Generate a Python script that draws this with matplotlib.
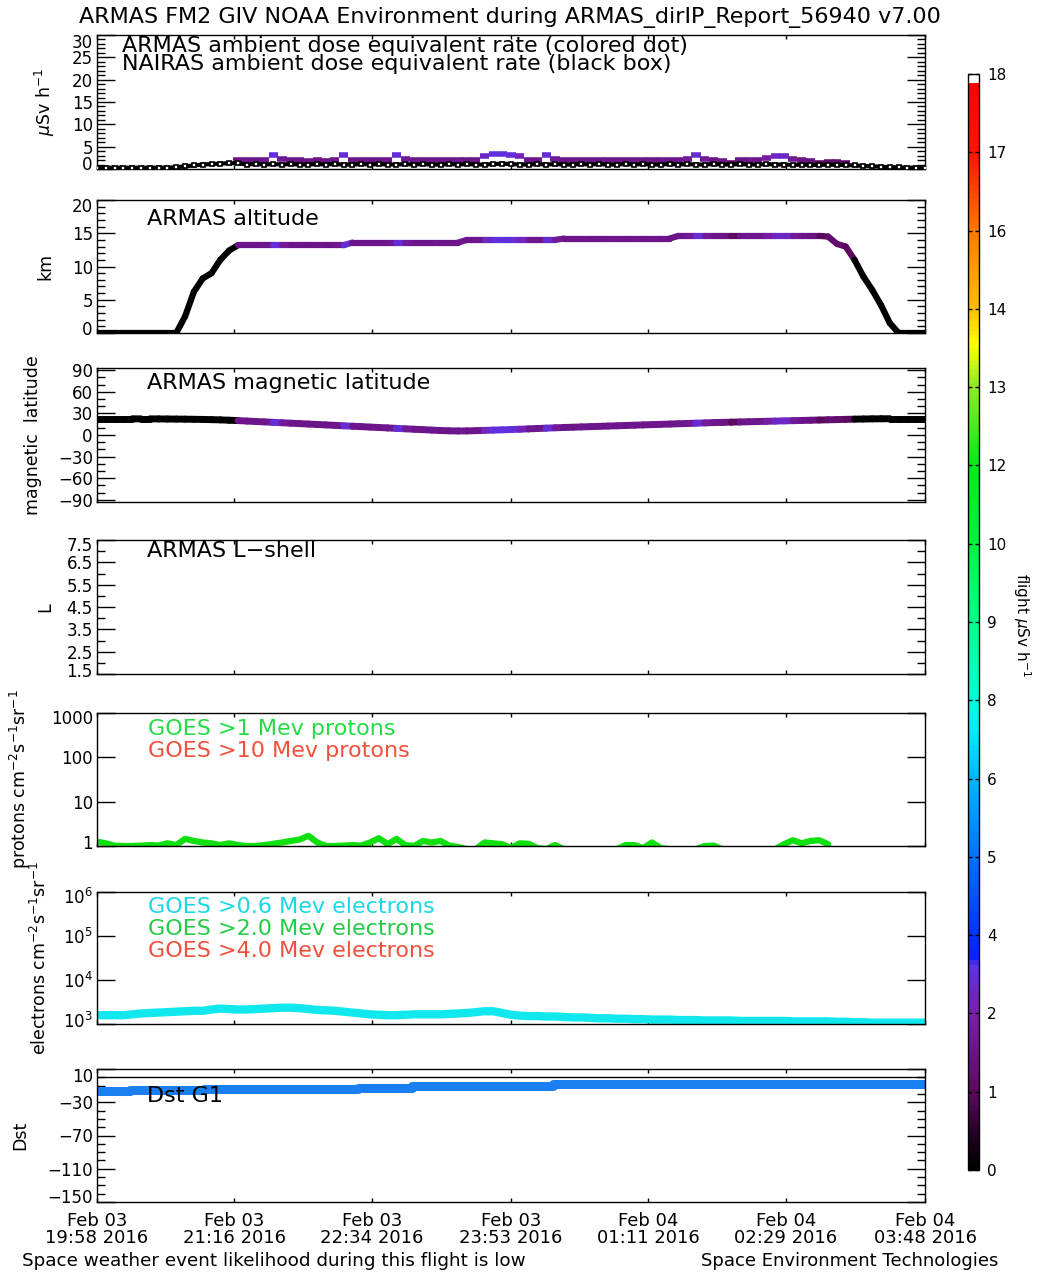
import numpy as np
import matplotlib
matplotlib.use('Agg')
import matplotlib.pyplot as plt
import matplotlib.transforms as mtransforms
from matplotlib.collections import LineCollection
from matplotlib.colors import LinearSegmentedColormap, Normalize
from matplotlib.cm import ScalarMappable
from matplotlib.ticker import MultipleLocator, FixedLocator, NullLocator

# ---------------- data ----------------
# sample times: minutes after 19:58 UT, Feb 03 2016 (every 5 min)
t = np.arange(0, 471, 5)

xtick_minutes = [0, 78, 156, 235, 313, 391, 470]
xtick_labels = ["Feb 03\n19:58 2016", "Feb 03\n21:16 2016", "Feb 03\n22:34 2016",
                "Feb 03\n23:53 2016", "Feb 04\n01:11 2016", "Feb 04\n02:29 2016",
                "Feb 04\n03:48 2016"]

nan = np.nan
# ARMAS ambient dose equivalent rate (uSv/h), colored dots
armas_dose = [nan] * 16 + [
    2.0, 2.0, 2.0, 2.1, 3.2, 2.2, 2.0, 2.0, 1.9, 2.0, 1.9, 2.1, 3.1, 2.0,
    2.0, 2.0, 2.0, 2.1, 3.2, 2.2, 2.0, 2.0, 2.1, 2.0, 2.0, 2.1, 2.0, 2.1,
    2.9, 3.3, 3.3, 3.2, 2.8, 2.1, 2.1, 3.1, 2.2, 2.0, 2.0, 2.1, 2.0, 2.0,
    2.1, 2.1, 2.0, 2.1, 2.0, 2.1, 2.0, 2.0, 2.1, 2.2, 3.1, 2.2, 2.0, 1.9,
    1.3, 2.0, 2.1, 2.1, 2.4, 2.9, 2.9, 2.2, 2.0, 1.8, 1.3, 1.5, 1.5, 1.3,
] + [nan] * 9

# NAIRAS ambient dose equivalent rate (uSv/h), black boxes
nairas_dose = [
    0.3, 0.3, 0.3, 0.3, 0.3, 0.3, 0.3, 0.3, 0.3, 0.4, 0.6, 0.8, 1.0, 1.1,
    1.2, 1.3, 1.3, 1.0, 1.1, 1.0, 1.1, 1.0, 1.1, 1.0, 1.0, 1.1, 1.0, 1.1,
    1.0, 1.0, 1.1, 1.0, 1.1, 1.0, 1.0, 1.1, 1.0, 1.1, 1.0, 1.0, 1.1, 1.0,
    1.1, 1.0, 1.0, 1.1, 1.2, 1.1, 1.0, 1.0, 1.1, 1.0, 1.1, 1.0, 1.0, 1.1,
    1.0, 1.1, 1.0, 1.0, 1.1, 1.0, 1.1, 1.0, 1.0, 1.1, 1.0, 1.1, 1.0, 1.0,
    1.1, 1.0, 1.0, 1.1, 1.0, 1.0, 1.1, 1.0, 1.0, 0.9, 1.0, 0.9, 0.9, 1.0,
    0.9, 0.9, 0.8, 0.7, 0.6, 0.5, 0.4, 0.4, 0.3, 0.3, 0.3,
]

# ARMAS altitude (km)
altitude = [
    0, 0, 0, 0, 0, 0, 0, 0, 0, 0, 2.5, 6.2, 8.2, 9.0, 11.0, 12.4,
    13.2, 13.2, 13.2, 13.2, 13.2, 13.2, 13.2, 13.2, 13.2, 13.2, 13.2, 13.2, 13.2,
    13.6, 13.6, 13.6, 13.6, 13.6, 13.6, 13.6, 13.6, 13.6, 13.6, 13.6, 13.6, 13.6,
    14.0, 14.0, 14.0, 14.0, 14.0, 14.0, 14.0, 14.0, 14.0, 14.0, 14.0,
    14.2, 14.2, 14.2, 14.2, 14.2, 14.2, 14.2, 14.2, 14.2, 14.2, 14.2, 14.2, 14.2,
    14.6, 14.6, 14.6, 14.6, 14.6, 14.6, 14.6, 14.6, 14.6, 14.6, 14.6, 14.6, 14.6,
    14.6, 14.6, 14.6, 14.6, 14.5,
    13.4, 13.0, 11.0, 8.5, 6.5, 4.2, 1.5, 0, 0, 0, 0,
]

# ARMAS magnetic latitude (deg)
mag_lat = [
    22.5, 22.5, 22.5, 22.5, 22.5, 22.4, 22.4, 22.3, 22.2, 22.1, 22.0, 21.8,
    21.6, 21.3, 21.0, 20.5, 20.0, 19.4, 18.8, 18.2, 17.6, 17.0, 16.4, 15.8,
    15.2, 14.6, 14.0, 13.4, 12.8, 12.2, 11.6, 11.0, 10.4, 9.8, 9.2, 8.6, 8.0,
    7.4, 6.8, 6.2, 5.8, 5.6, 5.7, 6.0, 6.4, 6.8, 7.2, 7.6, 8.0, 8.5, 9.0, 9.5,
    10.0, 10.4, 10.8, 11.2, 11.6, 12.0, 12.4, 12.8, 13.2, 13.6, 14.0, 14.4,
    14.8, 15.2, 15.6, 16.0, 16.4, 16.8, 17.2, 17.5, 17.8, 18.1, 18.4, 18.7,
    19.0, 19.3, 19.6, 19.9, 20.2, 20.5, 20.8, 21.1, 21.4, 21.7, 22.0, 22.2,
    22.4, 22.5, 22.6, 22.6, 22.6, 22.6, 22.6,
]

# GOES >1 MeV protons (cm-2 s-1 sr-1)
protons_1mev = [
    1.25, 1.15, 1.02, 1.0, 1.0, 1.02, 1.05, 1.03, 1.15, 1.05, 1.45, 1.3, 1.2,
    1.15, 1.05, 1.15, 1.05, 1.0, 1.0, 1.05, 1.12, 1.2, 1.3, 1.4, 1.7, 1.2, 1.0,
    1.0, 1.02, 1.05, 1.02, 1.2, 1.5, 1.1, 1.45, 1.05, 1.0, 1.3, 1.2, 1.3, 1.02,
    0.95, 0.85, 0.85, 1.2, 1.15, 1.1, 0.9, 1.15, 1.12, 0.9, 0.85, 1.05, 0.85,
    0.85, 0.85, 0.85, 0.85, 0.85, 0.85, 1.05, 1.05, 0.9, 1.2, 0.9, 0.85, 0.85,
    0.85, 0.85, 1.0, 1.02, 0.85, 0.85, 0.85, 0.85, 0.85, 0.85, 0.85, 1.1, 1.35,
    1.15, 1.3, 1.35, 1.1,
] + [nan] * 11

# GOES >0.6 MeV electrons, log10 flux (cm-2 s-1 sr-1)
electrons_06_log = [
    3.20, 3.20, 3.20, 3.20, 3.22, 3.24, 3.25, 3.26, 3.27, 3.28, 3.29, 3.30,
    3.30, 3.33, 3.35, 3.34, 3.33, 3.33, 3.34, 3.35, 3.36, 3.37, 3.37, 3.36,
    3.34, 3.32, 3.31, 3.30, 3.28, 3.26, 3.24, 3.22, 3.21, 3.20, 3.20, 3.21,
    3.22, 3.22, 3.22, 3.22, 3.23, 3.24, 3.25, 3.27, 3.29, 3.29, 3.25, 3.21,
    3.19, 3.18, 3.18, 3.17, 3.17, 3.16, 3.15, 3.15, 3.14, 3.13, 3.13, 3.12,
    3.12, 3.11, 3.11, 3.10, 3.10, 3.10, 3.09, 3.09, 3.09, 3.08, 3.08, 3.08,
    3.08, 3.07, 3.07, 3.07, 3.07, 3.07, 3.07, 3.06, 3.06, 3.06, 3.06, 3.06,
    3.05, 3.05, 3.04, 3.04, 3.03, 3.03, 3.03, 3.03, 3.03, 3.03, 3.03,
]

# Dst index (nT), stepwise
dst_minutes = [0, 19, 61, 110, 148, 179, 213, 259, 470]
dst_values = [-16.5, -15.5, -14.5, -13.5, -12.5, -11.0, -10.0, -8.5, -8.5]

cbar_labels = ["0", "1", "2", "4", "5", "6", "8", "9", "10", "12", "13", "14", "16", "17", "18"]

# ---------------- styling ----------------
W, H = 1042, 1274
fig = plt.figure(figsize=(W / 100, H / 100), dpi=100)
plt.rcParams['font.family'] = ['DejaVu Sans']
plt.rcParams['mathtext.fontset'] = 'dejavusans'

cmap = LinearSegmentedColormap.from_list('idl39', [
    (0.000, (0.00, 0.00, 0.00)),
    (0.020, (0.08, 0.00, 0.08)),
    (0.071, (0.36, 0.04, 0.38)),
    (0.143, (0.48, 0.12, 0.68)),
    (0.186, (0.36, 0.20, 0.90)),
    (0.192, (0.06, 0.12, 1.00)),
    (0.214, (0.00, 0.20, 1.00)),
    (0.286, (0.00, 0.45, 1.00)),
    (0.357, (0.00, 0.72, 1.00)),
    (0.400, (0.00, 0.92, 1.00)),
    (0.429, (0.00, 1.00, 0.85)),
    (0.500, (0.00, 1.00, 0.55)),
    (0.571, (0.00, 0.96, 0.25)),
    (0.643, (0.00, 0.92, 0.08)),
    (0.714, (0.55, 0.92, 0.15)),
    (0.755, (1.00, 1.00, 0.00)),
    (0.786, (1.00, 0.75, 0.00)),
    (0.857, (1.00, 0.48, 0.00)),
    (0.929, (1.00, 0.08, 0.00)),
    (0.994, (1.00, 0.00, 0.00)),
    (0.996, (1.00, 1.00, 1.00)),
    (1.000, (1.00, 1.00, 1.00)),
])
norm = Normalize(0, 18)


def ax_at(top, bottom, left=97, right=925):
    return fig.add_axes([left / W, 1 - bottom / H, (right - left) / W, (bottom - top) / H])


def style(ax):
    ax.set_xlim(0, 470)
    ax.xaxis.set_major_locator(FixedLocator(xtick_minutes))
    ax.xaxis.set_minor_locator(NullLocator())
    ax.tick_params(axis='x', which='major', direction='in', length=3, width=1,
                   top=True, bottom=True, labelbottom=False)
    ax.tick_params(axis='y', which='major', direction='in', length=13, width=1,
                   left=True, right=True, labelsize=12, pad=3)
    ax.tick_params(axis='y', which='minor', direction='in', length=6, width=1,
                   left=True, right=True)
    for s in ax.spines.values():
        s.set_linewidth(1)


def inset_end_labels(ax, d=5):
    lo, hi = ax.get_ylim()
    locs = ax.yaxis.get_majorticklocs()
    ticks = ax.yaxis.get_major_ticks(len(locs))
    for tk, loc in zip(ticks, locs):
        if np.isclose(loc, lo, rtol=1e-6):
            dy = d
        elif np.isclose(loc, hi, rtol=1e-6):
            dy = -d
        else:
            continue
        off = mtransforms.ScaledTranslation(0, dy / 100, fig.dpi_scale_trans)
        tk.label1.set_transform(tk.label1.get_transform() + off)


def dose_colors(vals):
    return [cmap(norm(v)) if np.isfinite(v) else (0, 0, 0, 1) for v in vals]


def colored_line(ax, x, y, c, lw):
    pts = np.column_stack([x, y])
    segs = np.stack([pts[:-1], pts[1:]], axis=1)
    lc = LineCollection(segs, colors=dose_colors(np.asarray(c, float)[:-1]),
                        linewidths=lw, capstyle='round')
    ax.add_collection(lc)


def ylab(x_px, ax, text, size=12.5):
    pos = ax.get_position()
    fig.text(x_px / W, pos.y0 + pos.height / 2, text, rotation=90,
             ha='center', va='center', fontsize=size)


TXT = 16

# ---- panel 1: dose rate ----
ax1 = ax_at(35, 169)
style(ax1)
ax1.set_ylim(0, 30)
ax1.yaxis.set_major_locator(MultipleLocator(5))
ax1.yaxis.set_minor_locator(MultipleLocator(1))
ad = np.asarray(armas_dose, float)
ok = np.isfinite(ad)
dose_segs = [[(ti - 2.6, v), (ti + 2.6, v)] for ti, v in zip(t[ok], ad[ok])]
ax1.add_collection(LineCollection(dose_segs, colors=dose_colors(ad[ok]),
                                  linewidths=4, capstyle='butt', zorder=2))
ax1.plot(t, nairas_dose, color='black', lw=3, marker='s', ms=3.5, mfc='white',
         mec='black', mew=1.2, zorder=3)
ax1.text(0.030, 0.915, "ARMAS ambient dose equivalent rate (colored dot)",
         transform=ax1.transAxes, fontsize=TXT, va='center')
ax1.text(0.030, 0.780, "NAIRAS ambient dose equivalent rate (black box)",
         transform=ax1.transAxes, fontsize=TXT, va='center')
ylab(45, ax1, r"$\mu$Sv h$^{-1}$")
inset_end_labels(ax1, 6)

# ---- panel 2: altitude ----
ax2 = ax_at(200, 333)
style(ax2)
ax2.set_ylim(0, 20)
ax2.yaxis.set_major_locator(MultipleLocator(5))
ax2.yaxis.set_minor_locator(MultipleLocator(1))
colored_line(ax2, t, altitude, armas_dose, 4.5)
ax2.text(0.060, 0.857, "ARMAS altitude", transform=ax2.transAxes, fontsize=TXT, va='center')
ylab(45, ax2, "km")
inset_end_labels(ax2, 5)

# ---- panel 3: magnetic latitude ----
ax3 = ax_at(368, 502)
style(ax3)
ax3.set_ylim(-93, 93)
ax3.yaxis.set_major_locator(FixedLocator([-90, -60, -30, 0, 30, 60, 90]))
ax3.yaxis.set_minor_locator(MultipleLocator(10))
colored_line(ax3, t, mag_lat, armas_dose, 5)
ax3.text(0.060, 0.885, "ARMAS magnetic latitude", transform=ax3.transAxes, fontsize=TXT, va='center')
ylab(33, ax3, "magnetic  latitude")

# ---- panel 4: L-shell ----
ax4 = ax_at(540, 674)
style(ax4)
ax4.set_ylim(1.5, 7.5)
ax4.yaxis.set_major_locator(FixedLocator([1.5, 2.5, 3.5, 4.5, 5.5, 6.5, 7.5]))
ax4.yaxis.set_minor_locator(FixedLocator([2, 3, 4, 5, 6, 7]))
ax4.text(0.060, 0.915, "ARMAS L\u2212shell", transform=ax4.transAxes, fontsize=TXT, va='center')
ylab(45, ax4, "L")
inset_end_labels(ax4, 4)

# ---- panel 5: protons ----
ax5 = ax_at(713, 846)
style(ax5)
ax5.set_yscale('log')
ax5.set_ylim(1, 1000)
ax5.yaxis.set_major_locator(FixedLocator([1, 10, 100, 1000]))
ax5.yaxis.set_minor_locator(NullLocator())
ax5.set_yticklabels(["1", "10", "100", "1000"])
ax5.plot(t, protons_1mev, color='#10e010', lw=4.5, solid_capstyle='round')
ax5.text(0.062, 0.880, "GOES >1 Mev protons", transform=ax5.transAxes, fontsize=TXT,
         va='center', color='#22dd44')
ax5.text(0.062, 0.714, "GOES >10 Mev protons", transform=ax5.transAxes, fontsize=TXT,
         va='center', color='#f0503c')
ylab(20, ax5, r"protons cm$^{-2}$s$^{-1}$sr$^{-1}$")
inset_end_labels(ax5, 4)

# ---- panel 6: electrons ----
ax6 = ax_at(892, 1024)
style(ax6)
ax6.set_yscale('log')
ax6.set_ylim(1e3, 1e6)
ax6.yaxis.set_major_locator(FixedLocator([1e3, 1e4, 1e5, 1e6]))
ax6.yaxis.set_minor_locator(NullLocator())
ax6.set_yticklabels([r"10$^{3}$", r"10$^{4}$", r"10$^{5}$", r"10$^{6}$"])
ax6.plot(t, 10 ** np.asarray(electrons_06_log), color='#10e8ee', lw=6, solid_capstyle='round')
ax6.text(0.062, 0.886, "GOES >0.6 Mev electrons", transform=ax6.transAxes, fontsize=TXT,
         va='center', color='#18d8e6')
ax6.text(0.062, 0.720, "GOES >2.0 Mev electrons", transform=ax6.transAxes, fontsize=TXT,
         va='center', color='#22cc44')
ax6.text(0.062, 0.553, "GOES >4.0 Mev electrons", transform=ax6.transAxes, fontsize=TXT,
         va='center', color='#f0503c')
ylab(40, ax6, r"electrons cm$^{-2}$s$^{-1}$sr$^{-1}$")
inset_end_labels(ax6, 4)

# ---- panel 7: Dst ----
ax7 = ax_at(1069, 1202)
style(ax7)
ax7.set_ylim(-150, 10)
ax7.yaxis.set_major_locator(FixedLocator([-150, -110, -70, -30, 10]))
ax7.yaxis.set_minor_locator(MultipleLocator(10))
ax7.axhline(0, color='black', lw=1)
ax7.plot(dst_minutes, dst_values, drawstyle='steps-post', color='#1a7ff0', lw=6.5)
ax7.text(0.060, 0.80, "Dst G1", transform=ax7.transAxes, fontsize=TXT, va='center')
ylab(20, ax7, "Dst")
ax7.tick_params(axis='x', labelbottom=True, labelsize=13, pad=7)
ax7.set_xticklabels(xtick_labels, linespacing=0.95)
inset_end_labels(ax7, 6)

# ---- colorbar ----
cax = fig.add_axes([968 / W, 1 - 1170 / H, 11 / W, (1170 - 74) / H])
sm = ScalarMappable(norm=norm, cmap=cmap)
cb = fig.colorbar(sm, cax=cax)
cb.set_ticks([18 * i / 14 for i in range(15)])
cb.set_ticklabels(cbar_labels)
cax.tick_params(direction='in', length=3, width=1, left=True, right=True, labelsize=11, pad=6)
cb.outline.set_linewidth(1)
fig.text(1022 / W, 1 - 625 / H, r"flight $\mu$Sv h$^{-1}$", rotation=270,
         ha='center', va='center', fontsize=11)

# ---- titles ----
fig.text(510 / W, 1 - 17 / H, "ARMAS FM2 GIV NOAA Environment during ARMAS_dirIP_Report_56940 v7.00",
         ha='center', va='center', fontsize=16)
fig.text(22 / W, 1 - 1261 / H, "Space weather event likelihood during this flight is low",
         ha='left', va='center', fontsize=13.2)
fig.text(998 / W, 1 - 1261 / H, "Space Environment Technologies",
         ha='right', va='center', fontsize=13)

fig.savefig("out.png", dpi=100)
